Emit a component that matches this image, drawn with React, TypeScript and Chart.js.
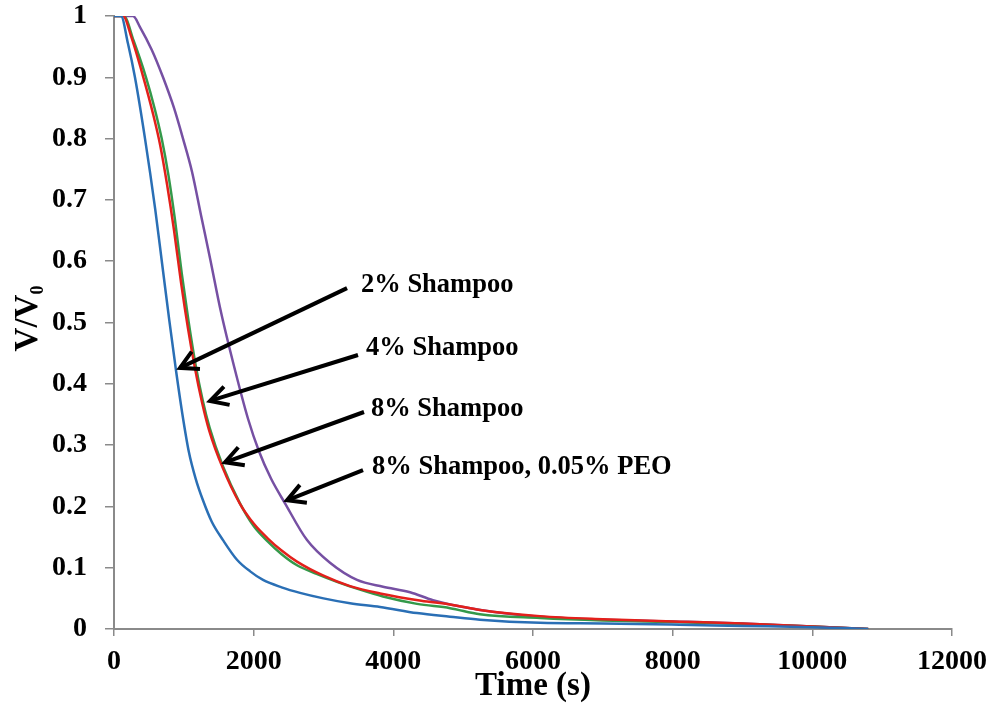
import React, { useEffect, useRef } from "react";
import { Chart, registerables } from "chart.js";

Chart.register(...registerables);

// ---- data (time in s, V/V0) ----
const blueT = [0, 100, 200, 300, 444, 590, 690, 790, 890, 980, 1070, 1170, 1274, 1400, 1561, 1761, 1950, 2134, 2400, 2664, 3000, 3380, 3810, 4339, 4812, 5240, 6100, 7000, 8100, 9000, 10000, 10800];
const blueV = [1, 1, 0.955, 0.9, 0.8, 0.685, 0.595, 0.505, 0.42, 0.35, 0.29, 0.245, 0.21, 0.175, 0.145, 0.113, 0.094, 0.08, 0.068, 0.059, 0.05, 0.042, 0.036, 0.026, 0.02, 0.015, 0.01, 0.009, 0.007, 0.005, 0.003, 0];

const redT = [0, 130, 250, 420, 560, 660, 760, 860, 960, 1060, 1160, 1260, 1360, 1560, 1800, 2000, 2200, 2400, 2620, 3000, 3380, 3810, 4400, 4810, 5240, 6100, 7000, 8100, 9000, 10000, 10800];
const redV = [1, 1, 0.965, 0.9, 0.84, 0.79, 0.725, 0.65, 0.565, 0.49, 0.425, 0.37, 0.325, 0.262, 0.205, 0.172, 0.148, 0.128, 0.11, 0.087, 0.07, 0.058, 0.046, 0.04, 0.031, 0.021, 0.016, 0.012, 0.009, 0.004, 0];

const greenT = [0, 140, 280, 458, 580, 683, 780, 870, 970, 1070, 1170, 1270, 1370, 1561, 1804, 2000, 2200, 2400, 2621, 2900, 3193, 3500, 3852, 4339, 4812, 5240, 6100, 7000, 8100, 9000, 10000, 10800];
const greenV = [1, 1, 0.96, 0.9, 0.85, 0.8, 0.74, 0.67, 0.58, 0.5, 0.43, 0.373, 0.328, 0.265, 0.205, 0.168, 0.143, 0.122, 0.104, 0.09, 0.077, 0.065, 0.053, 0.041, 0.034, 0.024, 0.018, 0.014, 0.011, 0.008, 0.004, 0];

const purpleT = [0, 272, 372, 540, 702, 859, 988, 1117, 1246, 1375, 1532, 1718, 1919, 2076, 2250, 2449, 2764, 3093, 3480, 3852, 4239, 4568, 5000, 5500, 6100, 7000, 8100, 9000, 10000, 10800];
const purpleV = [1, 1, 0.982, 0.945, 0.9, 0.85, 0.8, 0.746, 0.675, 0.605, 0.517, 0.429, 0.343, 0.29, 0.245, 0.205, 0.145, 0.108, 0.08, 0.069, 0.06, 0.047, 0.036, 0.027, 0.02, 0.015, 0.012, 0.009, 0.004, 0];

// ---- annotations (data coordinates) ----
const labelText = ["2% Shampoo", "4% Shampoo", "8% Shampoo", "8% Shampoo, 0.05% PEO"];
const labelT = [3537, 3609, 3680, 3695];
const labelV = [0.561, 0.458, 0.359, 0.264];
const arrowTailT = [3337, 3494, 3580, 3566];
const arrowTailV = [0.556, 0.447, 0.354, 0.259];
const arrowHeadT = [945, 1375, 1590, 2478];
const arrowHeadV = [0.426, 0.372, 0.272, 0.21];

const xMin = 0;
const xMax = 12000;
const xStep = 2000;
const yMin = 0;
const yMax = 1;
const yStep = 0.1;

const xTitle = "Time (s)";
const yTitleMain = "V/V";
const yTitleSub = "0";

const FONT = "'Liberation Serif', 'Times New Roman', serif";

const toPts = (t: number[], v: number[]) => t.map((x, i) => ({ x, y: v[i] }));

const annotationPlugin = {
  id: "annots",
  afterDatasetsDraw(chart: any) {
    const { ctx, scales } = chart;
    const xs = scales.x;
    const ys = scales.y;
    ctx.save();
    ctx.strokeStyle = "#000";
    ctx.lineWidth = 4;
    ctx.lineCap = "butt";
    for (let i = 0; i < arrowTailT.length; i++) {
      const x1 = xs.getPixelForValue(arrowTailT[i]);
      const y1 = ys.getPixelForValue(arrowTailV[i]);
      const x2 = xs.getPixelForValue(arrowHeadT[i]);
      const y2 = ys.getPixelForValue(arrowHeadV[i]);
      ctx.beginPath();
      ctx.moveTo(x1, y1);
      ctx.lineTo(x2, y2);
      ctx.stroke();
      const ang = Math.atan2(y1 - y2, x1 - x2);
      const len = 20;
      const spread = 0.5;
      ctx.beginPath();
      ctx.moveTo(x2 + len * Math.cos(ang - spread), y2 + len * Math.sin(ang - spread));
      ctx.lineTo(x2, y2);
      ctx.lineTo(x2 + len * Math.cos(ang + spread), y2 + len * Math.sin(ang + spread));
      ctx.lineJoin = "miter";
      ctx.stroke();
    }
    ctx.fillStyle = "#000";
    ctx.font = `bold 26.5px ${FONT}`;
    ctx.textAlign = "left";
    ctx.textBaseline = "middle";
    for (let i = 0; i < labelText.length; i++) {
      ctx.fillText(labelText[i], xs.getPixelForValue(labelT[i]), ys.getPixelForValue(labelV[i]));
    }
    // y-axis title with subscript
    const cy = (chart.chartArea.top + chart.chartArea.bottom) / 2 - 4;
    ctx.translate(37, cy);
    ctx.rotate(-Math.PI / 2);
    ctx.textBaseline = "alphabetic";
    ctx.font = `bold 33px ${FONT}`;
    const wMain = ctx.measureText(yTitleMain).width;
    ctx.font = `bold 18px ${FONT}`;
    const wSub = ctx.measureText(yTitleSub).width;
    const start = -(wMain + wSub) / 2;
    ctx.font = `bold 33px ${FONT}`;
    ctx.fillText(yTitleMain, start, 0);
    ctx.font = `bold 18px ${FONT}`;
    ctx.fillText(yTitleSub, start + wMain, 6);
    ctx.restore();
  },
};

export default function App() {
  const ref = useRef<HTMLCanvasElement | null>(null);
  useEffect(() => {
    if (!ref.current) return;
    const mk = (data: any[], color: string) => ({
      data,
      borderColor: color,
      backgroundColor: color,
      borderWidth: 2.5,
      pointRadius: 0,
      fill: false,
      cubicInterpolationMode: "monotone" as const,
    });
    const chart = new Chart(ref.current, {
      type: "line",
      data: {
        datasets: [
          mk(toPts(blueT, blueV), "#2a6fb5"),
          mk(toPts(redT, redV), "#e3201b"),
          mk(toPts(greenT, greenV), "#34994a"),
          mk(toPts(purpleT, purpleV), "#7650a3"),
        ],
      },
      options: {
        animation: false,
        responsive: false,
        layout: { padding: { left: 0, top: 16, right: 39, bottom: 0 } },
        plugins: { legend: { display: false }, tooltip: { enabled: false } },
        scales: {
          x: {
            type: "linear",
            min: xMin,
            max: xMax,
            border: { color: "#8a8a8a", width: 2 },
            grid: { drawOnChartArea: false, drawTicks: true, tickLength: 7, color: "#8a8a8a", lineWidth: 1.5 },
            ticks: {
              stepSize: xStep,
              padding: 9,
              color: "#000",
              font: { family: FONT, size: 28, weight: "bold" },
              callback: (v: any) => String(v),
              maxRotation: 0,
            },
            title: {
              display: true,
              text: xTitle,
              color: "#000",
              font: { family: FONT, size: 33, weight: "bold" },
              padding: { top: 0, bottom: 3 },
            },
            afterFit: (s: any) => {
              s.height = 80;
              s.paddingLeft = 0;
              s.paddingRight = 0;
            },
          },
          y: {
            type: "linear",
            min: yMin,
            max: yMax,
            border: { color: "#8a8a8a", width: 2 },
            grid: { drawOnChartArea: false, drawTicks: true, tickLength: 9, color: "#8a8a8a", lineWidth: 1.5 },
            ticks: {
              stepSize: yStep,
              padding: 18,
              color: "#000",
              font: { family: FONT, size: 28, weight: "bold" },
              callback: (v: any) => {
                const n = Number(v);
                return Math.abs(n - Math.round(n)) < 1e-9 ? String(Math.round(n)) : n.toFixed(1);
              },
            },
            afterFit: (s: any) => {
              s.width = 114;
              s.paddingTop = 0;
              s.paddingBottom = 0;
            },
          },
        },
      },
      plugins: [annotationPlugin],
    });
    return () => chart.destroy();
  }, []);
  return (
    <div style={{ position: "fixed", left: 0, top: 0, width: 991, height: 709, background: "#fff" }}>
      <canvas ref={ref} width={991} height={709} style={{ display: "block" }} />
    </div>
  );
}
